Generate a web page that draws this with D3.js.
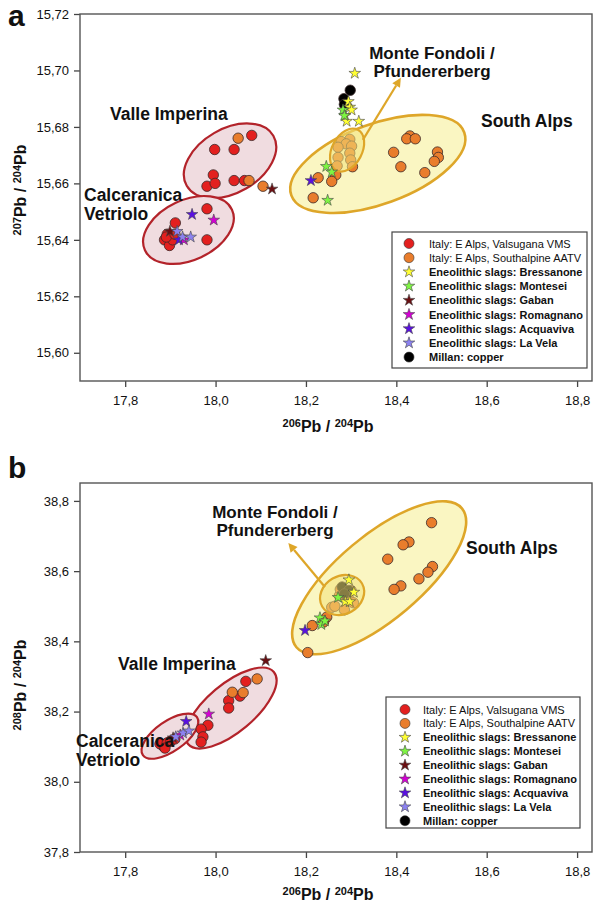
<!DOCTYPE html>
<html><head><meta charset="utf-8">
<script src="https://cdn.jsdelivr.net/npm/d3@7"></script>
<style>body{margin:0;background:#fff}svg{display:block}text{font-family:"Liberation Sans",Arial,sans-serif;fill:#111}</style>
</head><body><svg id="c" width="608" height="902"></svg>
<script>
// ---------- tick labels ----------
const xTicks = [17.8, 18.0, 18.2, 18.4, 18.6, 18.8];
const yTicksA = [15.60, 15.62, 15.64, 15.66, 15.68, 15.70, 15.72];
const yTicksB = [37.8, 38.0, 38.2, 38.4, 38.6, 38.8];

// ---------- legend categories ----------
const seriesNames = ["Italy: E Alps, Valsugana VMS","Italy: E Alps, Southalpine AATV","Eneolithic slags: Bressanone","Eneolithic slags: Montesei","Eneolithic slags: Gaban","Eneolithic slags: Romagnano","Eneolithic slags: Acquaviva","Eneolithic slags: La Vela","Millan: copper"];

// ---------- panel a : 206Pb/204Pb vs 207Pb/204Pb ----------
const valsuganaA = [[18.080,15.677],[17.998,15.672],[18.041,15.672],[17.995,15.663],[17.981,15.659],[17.999,15.660],[18.041,15.661],[18.064,15.661],
  [17.981,15.651],[17.911,15.646],[17.981,15.640],[17.893,15.642],[17.887,15.640],[17.898,15.638],[17.905,15.640],[17.891,15.641],[17.910,15.642]];
const southalpineA = [[18.050,15.676],[18.074,15.661],[18.105,15.659],
  [18.297,15.6756],[18.278,15.6748],[18.289,15.6740],[18.271,15.6728],[18.301,15.6732],[18.297,15.6707],[18.271,15.6692],[18.299,15.6683],[18.269,15.6662],
  [18.303,15.6659],[18.266,15.6630],[18.227,15.6620],[18.257,15.6607],[18.216,15.6549],
  [18.430,15.6768],[18.423,15.6758],[18.442,15.6758],[18.394,15.6710],[18.491,15.6711],[18.493,15.6692],[18.484,15.6678],[18.410,15.6659],[18.463,15.6638]];
const bressanoneA = [[18.308,15.699],[18.294,15.689],[18.297,15.687],[18.301,15.686],[18.287,15.684],[18.290,15.682],[18.317,15.682]];
const monteseiA = [[18.282,15.686],[18.285,15.684],[18.245,15.666],[18.257,15.664],[18.248,15.654]];
const gabanA = [[18.125,15.658],[17.899,15.643]];
const romagnanoA = [[17.996,15.647],[17.930,15.640]];
const acquavivaA = [[17.948,15.649],[17.919,15.640],[18.211,15.661]];
const laVelaA = [[17.915,15.643],[17.927,15.641],[17.945,15.641]];
const millanA = [[18.298,15.693],[18.284,15.690],[18.285,15.688]];

// ---------- panel b : 206Pb/204Pb vs 208Pb/204Pb ----------
const valsuganaB = [[18.067,38.286],[18.054,38.244],[18.029,38.231],[18.029,38.210],[17.983,38.161],[17.968,38.150],
  [17.972,38.128],[17.968,38.113],[17.884,38.102],[17.877,38.108],[17.893,38.111],[17.901,38.116],[17.888,38.096],[17.910,38.122]];
const southalpineB = [[18.092,38.293],[18.061,38.254],[18.037,38.255],[18.214,38.445],[18.204,38.368],
  [18.478,38.738],[18.428,38.683],[18.415,38.675],[18.381,38.634],[18.480,38.613],[18.470,38.597],[18.450,38.578],[18.410,38.558],[18.395,38.548],
  [18.257,38.497],[18.246,38.469],[18.239,38.455],[18.274,38.530],[18.295,38.520],[18.264,38.500],[18.285,38.490],[18.305,38.510],[18.276,38.548],[18.300,38.545]];
const bressanoneB = [[18.295,38.575],[18.306,38.540],[18.287,38.513],[18.297,38.513]];
const monteseiB = [[18.231,38.467],[18.234,38.448],[18.271,38.525],[18.242,38.458]];
const gabanB = [[18.111,38.345],[17.906,38.125]];
const romagnanoB = [[17.985,38.193],[17.922,38.133]];
const acquavivaB = [[17.935,38.172],[18.198,38.431]];
const laVelaB = [[17.912,38.128],[17.928,38.139],[17.941,38.145]];
const millanB = [[18.280,38.555],[18.295,38.545],[18.285,38.535]];

// ---------- styling (not data) ----------
const styles = [
  {shape:"circle", fill:"#e3201f"},
  {shape:"circle", fill:"#e97d2c"},
  {shape:"star", fill:"#ffff33"},
  {shape:"star", fill:"#7ef542"},
  {shape:"star", fill:"#6a0f12"},
  {shape:"star", fill:"#d400d4"},
  {shape:"star", fill:"#5a10e0"},
  {shape:"star", fill:"#8c82f0"},
  {shape:"circle", fill:"#000000"}
];

const svg = d3.select("#c");
const star = d3.symbol().type(d3.symbolStar).size(42);

function drawPanel(cfg){
  const g = svg.append("g");
  const x = d3.scaleLinear().domain([17.7, 18.833]).range([cfg.left, cfg.right]);
  const y = d3.scaleLinear().domain(cfg.yDomain).range([cfg.bottom, cfg.top]);

  // axes
  const fmt = d => d3.format(cfg.yFmt)(d).replace(".", ",");
  const ax = g.append("g").attr("transform",`translate(0,${cfg.bottom})`)
    .call(d3.axisBottom(x).tickValues(xTicks).tickSize(6).tickSizeOuter(0).tickFormat(d=>d3.format(".1f")(d).replace(".",",")));
  const ay = g.append("g").attr("transform",`translate(${cfg.left},0)`)
    .call(d3.axisLeft(y).tickValues(cfg.yTicks).tickSize(6).tickSizeOuter(0).tickFormat(fmt));
  [ax, ay].forEach(a=>{
    a.select(".domain").remove();
    a.selectAll(".tick line").attr("stroke","#444").attr("stroke-width",1.3);
    a.selectAll(".tick text").attr("font-size",13).attr("fill","#333").style("font-family","'Liberation Sans',Arial,sans-serif");
  });
  ax.selectAll(".tick text").attr("dy","1.15em");
  ay.selectAll(".tick text").attr("dx","-2");

  const ell = (e) => g.append("ellipse")
    .attr("cx",0).attr("cy",0).attr("rx",e.rx).attr("ry",e.ry)
    .attr("transform",`translate(${x(e.cx)},${y(e.cy)}) rotate(${e.rot})`)
    .attr("fill",e.fill).attr("fill-opacity",e.op).attr("stroke",e.stroke).attr("stroke-width",e.sw);
  cfg.ellipses.forEach(e=>ell(e));

  // circles
  cfg.series.forEach((s,i)=>{
    if(styles[i].shape!=="circle") return;
    g.append("g").selectAll("circle").data(s).join("circle")
      .attr("cx",d=>x(d[0])).attr("cy",d=>y(d[1])).attr("r",5.2)
      .attr("fill",styles[i].fill).attr("stroke","#3a2a2a").attr("stroke-width",0.8);
  });
  // inner ellipse on top of circles
  cfg.inner.forEach(e=>ell(e));
  // stars
  cfg.series.forEach((s,i)=>{
    if(styles[i].shape!=="star") return;
    g.append("g").selectAll("path").data(s).join("path")
      .attr("d",star).attr("transform",d=>`translate(${x(d[0])},${y(d[1])})`)
      .attr("fill",styles[i].fill).attr("stroke","#444").attr("stroke-width",0.6);
  });

  // arrow
  const a = cfg.arrow;
  const x1=x(a[0][0]), y1=y(a[0][1]), x2=x(a[1][0]), y2=y(a[1][1]);
  const ang = Math.atan2(y2-y1,x2-x1), L=9, W=4.5;
  const bx = x2-L*Math.cos(ang), by = y2-L*Math.sin(ang);
  g.append("line").attr("x1",x1).attr("y1",y1).attr("x2",bx).attr("y2",by).attr("stroke","#dea629").attr("stroke-width",2.2);
  g.append("path").attr("d",`M${x2},${y2}L${bx+W*Math.sin(ang)},${by-W*Math.cos(ang)}L${bx-W*Math.sin(ang)},${by+W*Math.cos(ang)}Z`).attr("fill","#dea629");

  // frame
  g.append("rect").attr("x",cfg.left).attr("y",cfg.top).attr("width",cfg.right-cfg.left).attr("height",cfg.bottom-cfg.top)
    .attr("fill","none").attr("stroke","#555").attr("stroke-width",1.4);

  // region labels
  cfg.labels.forEach(l=>{
    const t = g.append("text").attr("x",l.x).attr("y",l.y).attr("font-size",l.fs).attr("font-weight","bold").attr("text-anchor",l.anchor||"start");
    l.lines.forEach((ln,k)=>t.append("tspan").attr("x",l.x).attr("dy",k?l.lh:0).text(ln));
  });

  // legend
  const lg = cfg.legend;
  g.append("rect").attr("x",lg.x).attr("y",lg.y).attr("width",lg.w).attr("height",lg.h).attr("fill","#fff").attr("stroke","#444").attr("stroke-width",1.2);
  seriesNames.forEach((n,i)=>{
    const yy = lg.y0 + i*lg.step;
    if(styles[i].shape==="circle"){
      g.append("circle").attr("cx",lg.mx).attr("cy",yy).attr("r",5).attr("fill",styles[i].fill).attr("stroke","#333").attr("stroke-width",0.6);
    } else {
      g.append("path").attr("d",star).attr("transform",`translate(${lg.mx},${yy})`).attr("fill",styles[i].fill).attr("stroke","#444").attr("stroke-width",0.6);
    }
    g.append("text").attr("x",lg.tx).attr("y",yy+4).attr("font-size",11).attr("font-weight",i<2?"normal":"bold").attr("fill","#222").text(n);
  });

  // axis titles
  const xt = g.append("text").attr("x",(cfg.left+cfg.right)/2 - 8).attr("y",cfg.xTitleY).attr("text-anchor","middle").attr("font-weight","bold").attr("font-size",16);
  xt.append("tspan").attr("font-size",11).attr("dy",-5).text("206");
  xt.append("tspan").attr("dy",5).text("Pb / ");
  xt.append("tspan").attr("font-size",11).attr("dy",-5).text("204");
  xt.append("tspan").attr("dy",5).text("Pb");
  const yt = g.append("text").attr("transform",`translate(${cfg.yTitleX},${cfg.yTitleY}) rotate(-90)`).attr("text-anchor","middle").attr("font-weight","bold").attr("font-size",16);
  yt.append("tspan").attr("font-size",11).attr("dy",-5).text(cfg.yIso);
  yt.append("tspan").attr("dy",5).text("Pb / ");
  yt.append("tspan").attr("font-size",11).attr("dy",-5).text("204");
  yt.append("tspan").attr("dy",5).text("Pb");

  g.append("text").attr("x",cfg.letter[0]).attr("y",cfg.letter[1]).attr("font-size",30).attr("font-weight","bold").text(cfg.id);
}

const redE = {fill:"#f0dce0", op:1, stroke:"#b3232a", sw:2.2};
const yelE = {fill:"#faf6c2", op:1, stroke:"#dea629", sw:2.6};
const innE = {fill:"#f2e27a", op:0.55, stroke:"#dea629", sw:2.2};

drawPanel({
  id:"a", left:80, right:592, top:14, bottom:381, yDomain:[15.59,15.72], yTicks:yTicksA, yFmt:".2f",
  series:[valsuganaA,southalpineA,bressanoneA,monteseiA,gabanA,romagnanoA,acquavivaA,laVelaA,millanA],
  ellipses:[
    Object.assign({cx:18.032, cy:15.668, rx:50, ry:32, rot:-30}, redE),
    Object.assign({cx:17.940, cy:15.6435, rx:48, ry:30, rot:-25}, redE),
    Object.assign({cx:18.359, cy:15.6669, rx:92, ry:40, rot:-20}, yelE)
  ],
  inner:[Object.assign({cx:18.291, cy:15.6718, rx:23, ry:15, rot:-62}, innE)],
  arrow:[[18.326,15.6754],[18.410,15.6974]],
  labels:[
    {x:432, y:59, fs:17, anchor:"middle", lh:18, lines:["Monte Fondoli /","Pfundererberg"]},
    {x:481, y:127, fs:17.5, lines:["South Alps"]},
    {x:110, y:120, fs:17.5, lines:["Valle Imperina"]},
    {x:84, y:201, fs:17.5, lh:19, lines:["Calceranica","Vetriolo"]}
  ],
  legend:{x:392, y:232, w:195, h:136, y0:243.5, step:14.2, mx:409, tx:429},
  xTitleY:432, yTitleX:26, yTitleY:190, yIso:"207", letter:[8,26]
});

drawPanel({
  id:"b", left:80, right:592, top:483, bottom:852, yDomain:[37.8,38.851], yTicks:yTicksB, yFmt:".1f",
  series:[valsuganaB,southalpineB,bressanoneB,monteseiB,gabanB,romagnanoB,acquavivaB,laVelaB,millanB],
  ellipses:[
    Object.assign({cx:18.034, cy:38.210, rx:56, ry:24, rot:-40}, redE),
    Object.assign({cx:17.899, cy:38.130, rx:33, ry:15, rot:-35}, redE),
    Object.assign({cx:18.362, cy:38.581, rx:108, ry:42, rot:-40}, yelE)
  ],
  inner:[Object.assign({cx:18.280, cy:38.532, rx:23, ry:19, rot:-30}, innE)],
  arrow:[[18.242,38.555],[18.161,38.680]],
  labels:[
    {x:275, y:518, fs:17, anchor:"middle", lh:18, lines:["Monte Fondoli /","Pfundererberg"]},
    {x:466, y:554, fs:17.5, lines:["South Alps"]},
    {x:118, y:670, fs:17.5, lines:["Valle Imperina"]},
    {x:76, y:747, fs:17.5, lh:19, lines:["Calceranica","Vetriolo"]}
  ],
  legend:{x:386, y:697, w:194, h:131, y0:709.5, step:13.9, mx:405, tx:423},
  xTitleY:900, yTitleX:26, yTitleY:685, yIso:"208", letter:[8,478]
});
</script></body></html>
